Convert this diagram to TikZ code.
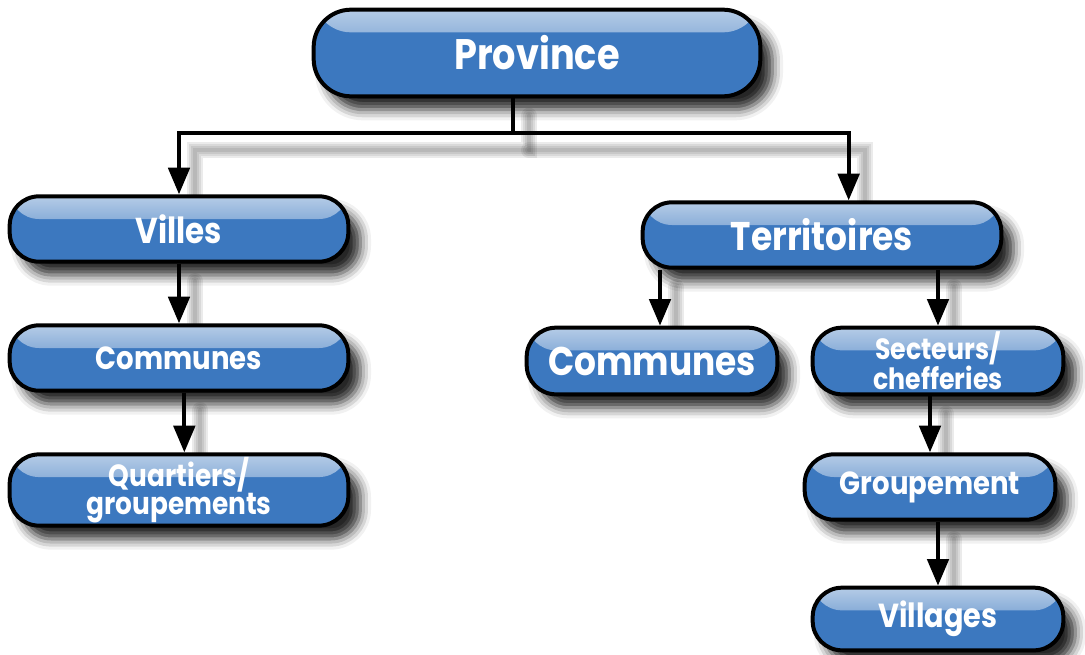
\documentclass[tikz,border=0pt]{standalone}
\usepackage{fontspec}
\setmainfont{Poppins}[FakeStretch=0.86]
\usetikzlibrary{arrows.meta, shadows.blur}
\definecolor{boxblue}{RGB}{60,120,191}
\pgfdeclarelayer{background}
\pgfsetlayers{background,main}
\newcommand*{\fsz}[2]{\fontsize{#1}{#2}\selectfont}

\begin{document}
\begin{tikzpicture}[x=0.75pt,y=-0.75pt,>={Triangle[width=16pt,length=20pt]},
      level/.style={draw=black,line width=3pt,fill=boxblue,text=white,
        rounded corners=22pt,minimum height=49pt,align=center,inner sep=2pt,
        blur shadow={shadow xshift=9pt,shadow yshift=-10pt,shadow blur radius=8pt,shadow opacity=85},
        path picture={\shade[top color=white!62!boxblue,bottom color=boxblue]
          ([yshift=-1pt]path picture bounding box.north west) rectangle
          ([yshift=-17pt]path picture bounding box.north east);}},
      wide/.style={level,minimum width=254pt},
      small/.style={level,minimum width=188pt},
      link/.style={line width=3pt,->},
      linkshade/.style={draw=black,opacity=0.08,-,line cap=round,
        transform canvas={xshift=12pt,yshift=-13pt}}]
      \useasboundingbox (0,0) rectangle (1085,654);
      % boxes
      \node[level,minimum width=335pt,minimum height=65pt,rounded corners=28pt,
        font=\bfseries\fsz{32}{32}] (prov) at (537,53) {Province};
      \node[wide,font=\bfseries\fsz{27}{27}] (villes) at (179,229) {Villes};
      \node[wide,font=\bfseries\fsz{24}{24}] (comg) at (179,358) {Communes};
      \node[wide,font=\bfseries\fsz{23}{17}] (quart) at (179,490) {Quartiers/\\groupements};
      \node[level,minimum width=269pt,font=\bfseries\fsz{30}{30}] (terr) at (822,235) {Territoires};
      \node[small,minimum height=50pt,font=\bfseries\fsz{30}{30}] (comd) at (652,361) {Communes};
      \node[small,minimum height=50pt,font=\bfseries\fsz{22}{18}] (sect) at (938,361) {Secteurs/\\chefferies};
      \node[small,font=\bfseries\fsz{24}{24}] (grp) at (930,487) {Groupement};
      \node[small,minimum height=47pt,font=\bfseries\fsz{25}{25}] (vill) at (938,619) {Villages};
      \coordinate (split) at (513,133);
      % shadows of the links
      \begin{pgfonlayer}{background}
      \foreach \w in {12,9,6,3} {
        \draw[linkshade,line width=\w pt] (prov.south -| split) -- (split) -| (villes.north);
        \draw[linkshade,line width=\w pt] (split) -| ([xshift=20pt]terr.north);
        \draw[linkshade,line width=\w pt] (villes.south) -- (comg.north);
        \draw[linkshade,line width=\w pt] ([xshift=4pt]comg.south) -- ([xshift=4pt]quart.north);
        \draw[linkshade,line width=\w pt] ([xshift=6pt]terr.south -| comd.north) -- ([xshift=6pt]comd.north);
        \draw[linkshade,line width=\w pt] (terr.south -| sect.north) -- (sect.north);
        \draw[linkshade,line width=\w pt] (sect.south -| grp.north) -- (grp.north);
        \draw[linkshade,line width=\w pt] (grp.south -| vill.north) -- (vill.north);
      }
      \end{pgfonlayer}
      % links
      \draw[link,-] (prov.south -| split) -- (split);
      \draw[link] (split) -| (villes.north);
      \draw[link] (split) -| ([xshift=20pt]terr.north);
      \draw[link] (villes.south) -- (comg.north);
      \draw[link] ([xshift=4pt]comg.south) -- ([xshift=4pt]quart.north);
      \draw[link] ([xshift=6pt]terr.south -| comd.north) -- ([xshift=6pt]comd.north);
      \draw[link] (terr.south -| sect.north) -- (sect.north);
      \draw[link] (sect.south -| grp.north) -- (grp.north);
      \draw[link] (grp.south -| vill.north) -- (vill.north);
    \end{tikzpicture}
\end{document}
